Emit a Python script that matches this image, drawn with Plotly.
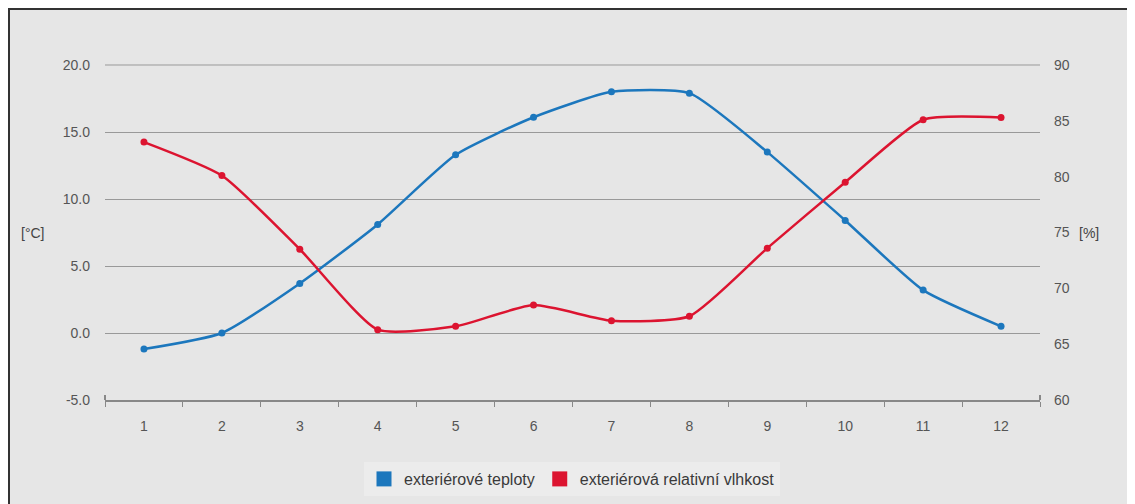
import plotly.graph_objects as go

months = ["1", "2", "3", "4", "5", "6", "7", "8", "9", "10", "11", "12"]
temperature = [-1.2, 0.0, 3.7, 8.1, 13.3, 16.1, 18.0, 17.9, 13.5, 8.4, 3.2, 0.5]
humidity = [83.1, 80.1, 73.5, 66.3, 66.6, 68.5, 67.1, 67.5, 73.6, 79.5, 85.1, 85.3]
left_ticks = [-5, 0, 5, 10, 15, 20]
left_tick_labels = ["-5.0", "0.0", "5.0", "10.0", "15.0", "20.0"]
right_ticks = [60, 65, 70, 75, 80, 85, 90]
name_temp = "exteriérové teploty"
name_hum = "exteriérová relativní vlhkost"

BLUE = "#1c77bd"
RED = "#dc1430"
OFF = 8  # browser body margin
W, H = 1127, 496
L, R, T, B = 97, 95, 57, 104
pw, ph = W - L - R, H - T - B

def px(x):
    return (x - OFF - L) / pw

def py(y):
    return (H - B - (y - OFF)) / ph

fig = go.Figure()
fig.add_trace(go.Scatter(x=months, y=temperature, mode="lines+markers",
                         line=dict(color=BLUE, width=2.5, shape="spline", smoothing=0.55),
                         marker=dict(color=BLUE, size=7), showlegend=False, yaxis="y"))
fig.add_trace(go.Scatter(x=months, y=humidity, mode="lines+markers",
                         line=dict(color=RED, width=2.5, shape="spline", smoothing=0.55),
                         marker=dict(color=RED, size=7), showlegend=False, yaxis="y2"))
fig.add_trace(go.Scatter(x=[None], y=[None], mode="markers", name=name_temp,
                         marker=dict(symbol="square", color=BLUE, size=15)))
fig.add_trace(go.Scatter(x=[None], y=[None], mode="markers", name=name_hum,
                         marker=dict(symbol="square", color=RED, size=15)))

font_main = "Liberation Sans, Arial, sans-serif"
tick_font = dict(family=font_main, size=14, color="#555555")
fig.update_layout(
    width=W, height=H,
    margin=dict(l=L, r=R, t=T, b=B, autoexpand=False),
    paper_bgcolor="white",
    plot_bgcolor="rgba(0,0,0,0)",
    font=dict(family=font_main, size=14, color="#555555"),
    showlegend=True,
    legend=dict(orientation="h", x=px(572), y=py(479), xanchor="center", yanchor="middle",
                bgcolor="#ececec", font=dict(size=16, color="#3a3a3a"),
                itemwidth=30, tracegroupgap=0),
    xaxis=dict(type="category", categoryorder="array", categoryarray=months,
               range=[-0.5, 11.5], tickson="boundaries", ticks="outside", ticklen=5,
               tickcolor="#888888", showline=True, linecolor="#888888", linewidth=2,
               showgrid=False, ticklabelstandoff=12, tickfont=tick_font,
               fixedrange=True, automargin=False),
    yaxis=dict(range=[-5, 20], tickvals=left_ticks, ticktext=left_tick_labels,
               showgrid=True, gridcolor="#999999", gridwidth=1, zeroline=False,
               showline=False, ticks="", ticklabelstandoff=14, tickfont=tick_font,
               automargin=False),
    yaxis2=dict(range=[60, 90], tickvals=right_ticks, overlaying="y", side="right",
                showgrid=False, zeroline=False, showline=False, ticks="",
                ticklabelstandoff=13, tickfont=tick_font, automargin=False),
    shapes=[
        dict(type="rect", xref="paper", yref="paper", layer="below",
             x0=px(OFF + 1), x1=px(1133), y0=py(520), y1=py(OFF + 1),
             fillcolor="#e6e6e6", line=dict(color="#333333", width=2)),
        dict(type="line", xref="paper", yref="paper", x0=0, x1=1, y0=1, y1=1,
             line=dict(color="#999999", width=1), layer="below"),
        dict(type="line", xref="paper", yref="paper", x0=0, x1=0, y0=0, y1=py(395),
             line=dict(color="#888888", width=2)),
        dict(type="line", xref="paper", yref="paper", x0=1, x1=1, y0=0, y1=py(395),
             line=dict(color="#888888", width=2)),
    ],
    annotations=[
        dict(text="[°C]", xref="paper", yref="paper", x=px(33), y=py(233),
             xanchor="center", yanchor="middle",
             showarrow=False, font=dict(size=14, color="#444444")),
        dict(text="[%]", xref="paper", yref="paper", x=px(1089), y=py(233),
             xanchor="center", yanchor="middle",
             showarrow=False, font=dict(size=14, color="#444444")),
    ],
)

fig.write_html("out.html")
